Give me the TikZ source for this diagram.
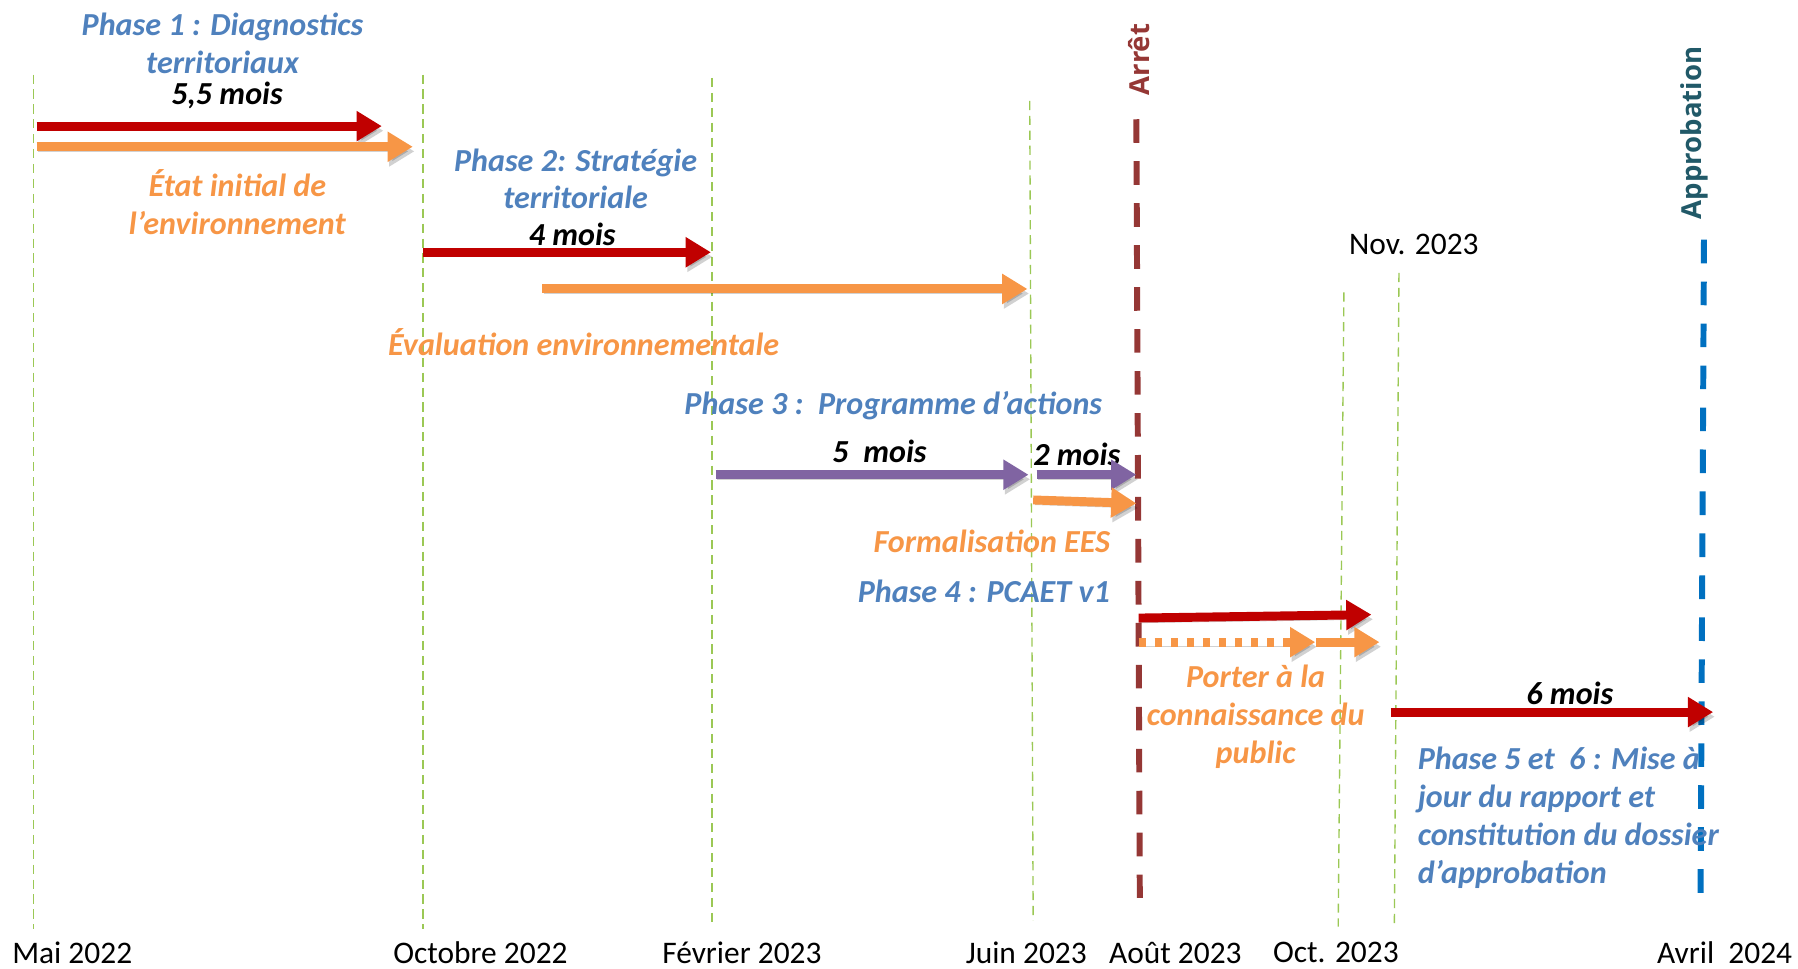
\documentclass[tikz,border=0pt]{standalone}
\usepackage{fontspec}
\setmainfont{Carlito}
\newfontfamily\markfont{Open Sans}
\usetikzlibrary{arrows.meta}

\definecolor{phaseblue}{RGB}{79,129,189}
\definecolor{eesorange}{RGB}{247,150,70}
\definecolor{barred}{RGB}{192,0,0}
\definecolor{barpurple}{RGB}{128,100,162}
\definecolor{gridgreen}{RGB}{155,200,85}
\definecolor{arretred}{RGB}{149,55,53}
\definecolor{approblue}{RGB}{0,112,192}
\definecolor{approteal}{RGB}{33,89,104}

\tikzset{
  phasebar/.style={line width=3.9pt, -{Triangle[length=11pt,width=12.5pt]},
    preaction={draw=black, opacity=0.18, transform canvas={shift={(0.7pt,-2pt)}}}},
  gridline/.style={gridgreen, line width=0.6pt, dash pattern=on 4pt off 2.5pt},
  milestone/.style={line width=2.6pt, dash pattern=on 10.3pt off 8pt},
  lbl/.style={font=\fontsize{14}{16.5}\selectfont\bfseries\itshape, align=center, inner sep=0pt},
  phase/.style={lbl, text=phaseblue},
  ees/.style={lbl, text=eesorange},
  duree/.style={lbl, text=black},
  datelbl/.style={font=\fontsize{13.7}{16}\selectfont, inner sep=0pt},
  marklbl/.style={font=\fontsize{12}{14}\selectfont\markfont\bfseries, rotate=90, inner sep=0pt}
}

\begin{document}
\begin{tikzpicture}[x=0.5pt, y=-0.5pt]
  \useasboundingbox (0,0) rectangle (1568,845);
  % ==== GRID LINES ====
  \draw[gridline] (29,65) -- (29,810);
  \draw[gridline] (369,65) -- (369,810);
  \draw[gridline] (621,68) -- (621,805);
  \draw[gridline] (898,88) -- (901,803);
  \draw[gridline] (1172,255) -- (1167,808);
  \draw[gridline] (1220,238) -- (1216,805);

  % ==== MILESTONES ====
  \draw[milestone, arretred] (991,104) -- (994,783);
  \draw[milestone, approblue] (1486,209) -- (1483,782);
  \node[marklbl, text=arretred] (arret) at (993,52) {Arrêt};
  \node[marklbl, text=approteal] (approb) at (1478,116) {Approbation};

  % ==== PHASE 1 ====
  \node[phase] (p1) at (194,38) {Phase 1 : Diagnostics\\territoriaux};
  \node[duree] (d1) at (198,83) {5,5 mois};
  \draw[phasebar, barred] (32,110) -- (333,110);
  \draw[phasebar, eesorange] (32,128) -- (360,128);
  \node[ees] (e1) at (207,176) {État initial de\\l’environnement};

  % ==== PHASE 2 ====
  \node[phase] (p2) at (502,156) {Phase 2: Stratégie\\territoriale};
  \node[duree] (d2) at (499,204) {4 mois};
  \draw[phasebar, barred] (369,220) -- (620,220);
  \draw[phasebar, eesorange] (473,252) -- (896,252);
  \node[ees] (e2) at (509,298) {Évaluation environnementale};

  % ==== PHASE 3 ====
  \node[phase] (p3) at (779,354) {Phase 3 :~~Programme d’actions};
  \node[duree] (d3) at (767,394) {5~~mois};
  \node[duree] (d3b) at (939,396) {2 mois};
  \draw[phasebar, barpurple] (624,414) -- (897,414);
  \draw[phasebar, barpurple] (904,414) -- (991,414);
  \draw[phasebar, eesorange] (901,436) -- (991,439);
  \node[ees] (e3) at (865,472) {Formalisation EES};

  % ==== PHASE 4 ====
  \node[phase] (p4) at (858,516) {Phase 4 : PCAET v1};
  \draw[phasebar, barred] (993,539) -- (1196,536);
  \draw[phasebar, eesorange, dash pattern=on 3.2pt off 3.8pt] (993,560) -- (1147,560);
  \draw[phasebar, eesorange] (1148,560) -- (1203,560);
  \node[ees] (e4) at (1095,625) {Porter à la\\connaissance du\\public};

  % ==== PHASES 5 ET 6 ====
  \node[duree] (d5) at (1369,605) {6 mois};
  \draw[phasebar, barred] (1213,621) -- (1494,621);
  \node[phase, align=left, anchor=west] (p5) at (1236,713)
    {Phase 5 et~~6 : Mise à\\jour du rapport et\\constitution du dossier\\d’approbation};

  % ==== DATES ====
  \node[datelbl] (nov) at (1233,213) {Nov. 2023};
  \node[datelbl] (t1) at (63,831) {Mai 2022};
  \node[datelbl] (t2) at (419,831) {Octobre 2022};
  \node[datelbl] (t3) at (647,831) {Février 2023};
  \node[datelbl] (t4) at (895,831) {Juin 2023};
  \node[datelbl] (t5) at (1025,831) {Août 2023};
  \node[datelbl] (t6) at (1165,831) {Oct. 2023};
  \node[datelbl] (t7) at (1504,831) {Avril~~2024};
\end{tikzpicture}
\end{document}
